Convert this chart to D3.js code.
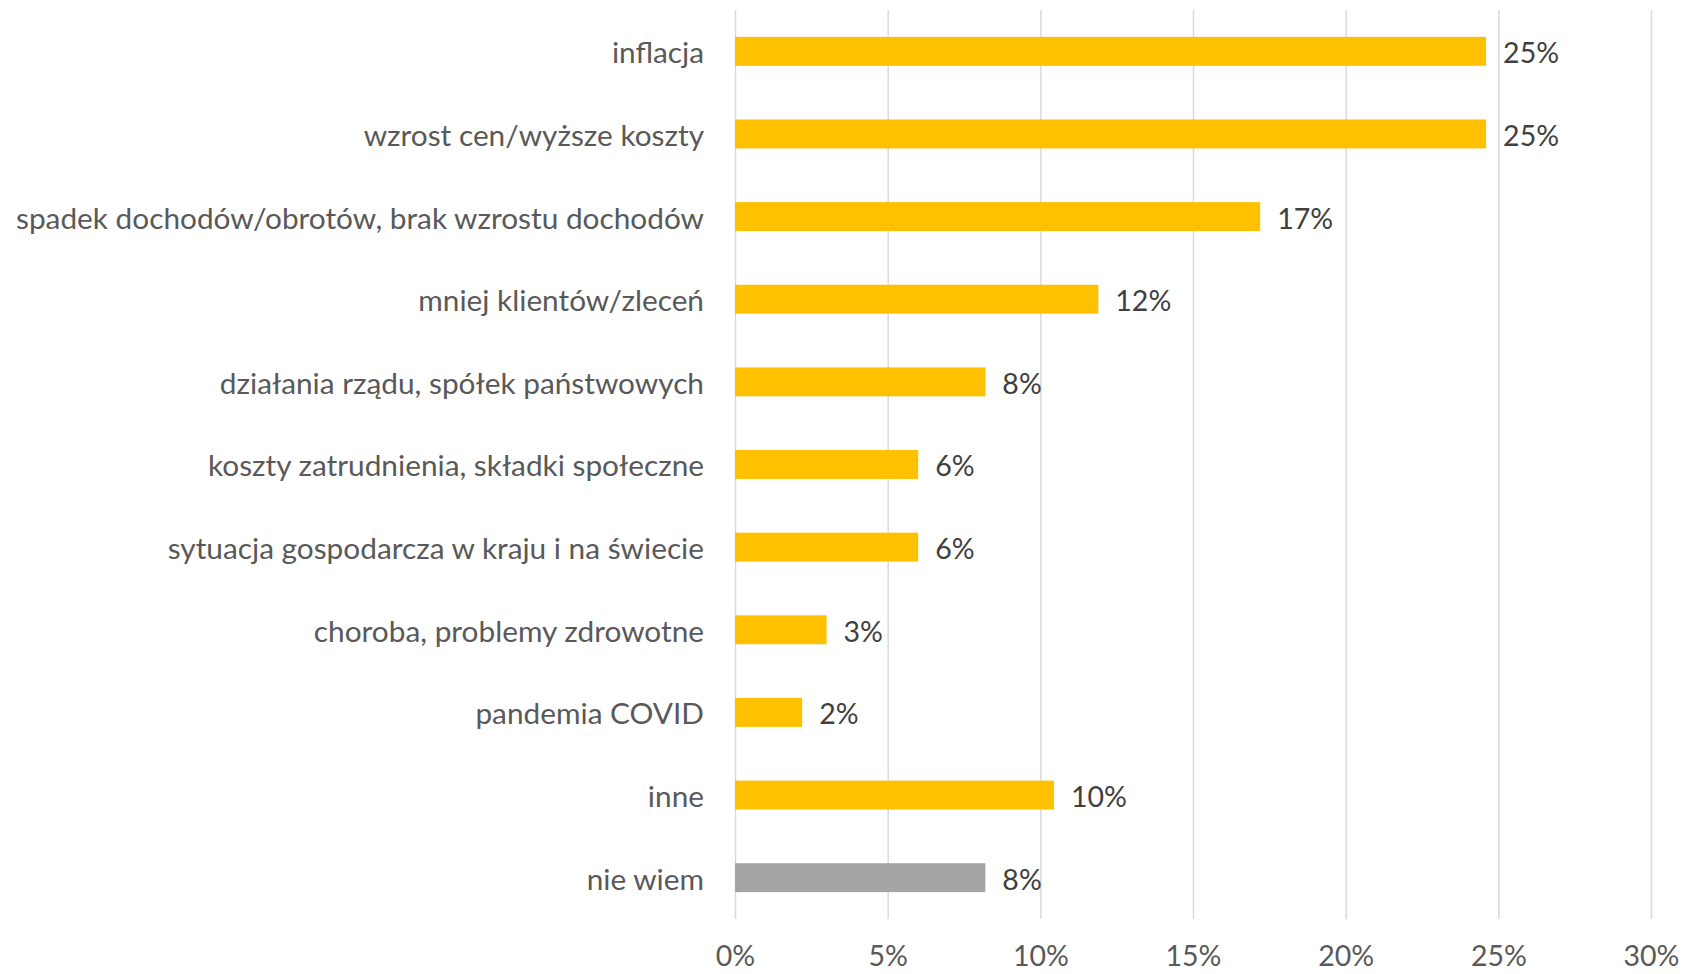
<!DOCTYPE html>
<html>
<head>
<meta charset="utf-8">
<script src="https://cdn.jsdelivr.net/npm/d3@7"></script>
<style>
  body { margin: 0; background: #fff; }
  svg text { font-family: Lato, "Open Sans", sans-serif; }
</style>
</head>
<body>
<div id="chart"></div>
<script>
// kategorie (od góry do dołu)
const categories = [
  "inflacja",
  "wzrost cen/wyższe koszty",
  "spadek dochodów/obrotów, brak wzrostu dochodów",
  "mniej klientów/zleceń",
  "działania rządu, spółek państwowych",
  "koszty zatrudnienia, składki społeczne",
  "sytuacja gospodarcza w kraju i na świecie",
  "choroba, problemy zdrowotne",
  "pandemia COVID",
  "inne",
  "nie wiem"
];
// wartości w %
const values = [24.6, 24.6, 17.2, 11.9, 8.2, 6.0, 6.0, 3.0, 2.2, 10.45, 8.2];
// osie
const xTicks = [0, 5, 10, 15, 20, 25, 30];

const W = 1683, H = 974;
const margin = { top: 10, right: 32, bottom: 55, left: 735 };
const width = W - margin.left - margin.right;
const height = H - margin.top - margin.bottom;

const data = categories.map((c, i) => ({ cat: c, value: values[i] }));

const x = d3.scaleLinear().domain([0, 30]).range([0, width]);
const y = d3.scaleBand().domain(categories).range([0, height]).paddingInner(0.65).paddingOuter(0.325);

const svg = d3.select('#chart').append('svg')
  .attr('width', W)
  .attr('height', H)
  .append('g')
    .attr('transform', `translate(${margin.left},${margin.top})`);

// siatka + etykiety osi X
const xAxisG = svg.append('g')
  .attr('transform', `translate(0,${height})`)
  .call(d3.axisBottom(x).tickValues(xTicks).tickSize(-height).tickPadding(27).tickFormat(d => d + '%'));
xAxisG.select('.domain').remove();
xAxisG.selectAll('.tick line').attr('stroke', '#d9d9d9').attr('stroke-width', 1.5);
xAxisG.selectAll('.tick text').attr('fill', '#595959').style('font-size', '28.5px');

// oś Y (kategorie)
const yAxisG = svg.append('g')
  .call(d3.axisLeft(y).tickSize(0).tickPadding(31));
yAxisG.select('.domain').remove();
yAxisG.selectAll('.tick text').attr('fill', '#595959').attr('dy', '0.4em').style('font-size', '29.8px');

// słupki
svg.selectAll('.bar')
  .data(data)
  .join('rect')
  .attr('class', 'bar')
  .attr('x', x(0))
  .attr('y', d => y(d.cat))
  .attr('width', d => x(d.value) - x(0))
  .attr('height', y.bandwidth())
  .attr('fill', d => d.cat === 'nie wiem' ? '#a5a5a5' : '#ffc000');

// etykiety danych
svg.selectAll('.lbl')
  .data(data)
  .join('text')
  .attr('class', 'lbl')
  .attr('x', d => x(d.value) + 17)
  .attr('y', d => y(d.cat) + y.bandwidth() / 2)
  .attr('dy', '0.42em')
  .attr('fill', '#404040')
  .style('font-size', '28.5px')
  .text(d => Math.round(d.value) + '%');
</script>
</body>
</html>
